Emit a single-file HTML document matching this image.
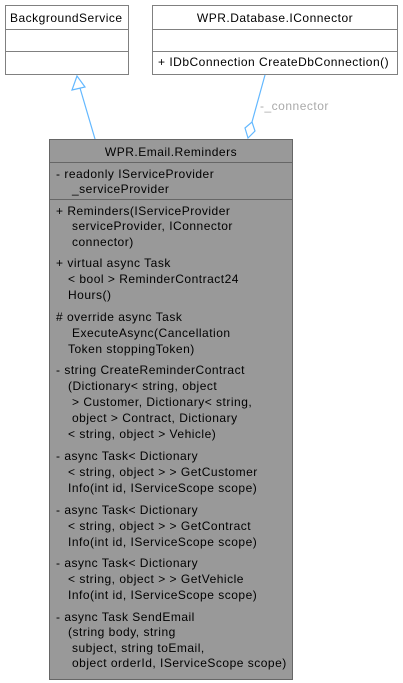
<!DOCTYPE html>
<html><head><style>body{margin:0;background:#fff}svg{display:block}text{font-family:"Liberation Sans",sans-serif;font-size:12px;fill:#000;letter-spacing:0.5px}</style></head>
<body>
<svg width="403" height="683" xmlns="http://www.w3.org/2000/svg">
<rect x="5.5" y="5.5" width="123" height="69" fill="#fff" stroke="#808080"/>
<line x1="5" y1="29.5" x2="129" y2="29.5" stroke="#808080"/>
<line x1="5" y1="51.5" x2="129" y2="51.5" stroke="#808080"/>
<text x="10" y="22">BackgroundService</text>
<rect x="152.5" y="5.5" width="245" height="69" fill="#fff" stroke="#808080"/>
<line x1="152" y1="29.5" x2="398" y2="29.5" stroke="#808080"/>
<line x1="152" y1="51.5" x2="398" y2="51.5" stroke="#808080"/>
<text x="275" y="22" text-anchor="middle">WPR.Database.IConnector</text>
<text x="158" y="66">+ IDbConnection CreateDbConnection()</text>
<line x1="95" y1="139" x2="80" y2="88" stroke="#63b8ff" stroke-width="1.2"/>
<polygon points="77,76 72,90 85,87" fill="#fff" stroke="#63b8ff" stroke-width="1.2"/>
<line x1="265" y1="75" x2="252" y2="122" stroke="#63b8ff" stroke-width="1.2"/>
<polygon points="252,122 255,131 248,138 245,128" fill="#fff" stroke="#63b8ff" stroke-width="1.2"/>
<text x="260" y="110" style="fill:#aaa">-_connector</text>
<rect x="49.5" y="139.5" width="243" height="540" fill="#999" stroke="#666"/>
<line x1="49" y1="162.5" x2="293" y2="162.5" stroke="#666"/>
<line x1="49" y1="199.5" x2="293" y2="199.5" stroke="#666"/>
<text x="171" y="156" text-anchor="middle">WPR.Email.Reminders</text>
<text x="56" y="178">-  readonly IServiceProvider</text>
<text x="72" y="193">_serviceProvider</text>
<text x="56" y="215">+ Reminders(IServiceProvider</text>
<text x="72" y="230">serviceProvider, IConnector</text>
<text x="72" y="246">connector)</text>
<text x="56" y="267">+ virtual async Task</text>
<text x="68" y="283">&lt; bool &gt; ReminderContract24</text>
<text x="68" y="299">Hours()</text>
<text x="56" y="321"># override async Task</text>
<text x="72" y="337">ExecuteAsync(Cancellation</text>
<text x="68" y="353">Token stoppingToken)</text>
<text x="56" y="374">-  string CreateReminderContract</text>
<text x="68" y="390">(Dictionary&lt; string, object</text>
<text x="72" y="406">&gt; Customer, Dictionary&lt; string,</text>
<text x="72" y="422">object &gt; Contract, Dictionary</text>
<text x="68" y="438">&lt; string, object &gt; Vehicle)</text>
<text x="56" y="460">-  async Task&lt; Dictionary</text>
<text x="68" y="476">&lt; string, object &gt; &gt; GetCustomer</text>
<text x="68" y="492">Info(int id, IServiceScope scope)</text>
<text x="56" y="514">-  async Task&lt; Dictionary</text>
<text x="68" y="530">&lt; string, object &gt; &gt; GetContract</text>
<text x="68" y="546">Info(int id, IServiceScope scope)</text>
<text x="56" y="567">-  async Task&lt; Dictionary</text>
<text x="68" y="583">&lt; string, object &gt; &gt; GetVehicle</text>
<text x="68" y="599">Info(int id, IServiceScope scope)</text>
<text x="56" y="621">-  async Task SendEmail</text>
<text x="68" y="636">(string body, string</text>
<text x="72" y="652">subject, string toEmail,</text>
<text x="72" y="667">object orderId, IServiceScope scope)</text>
</svg>
</body></html>
